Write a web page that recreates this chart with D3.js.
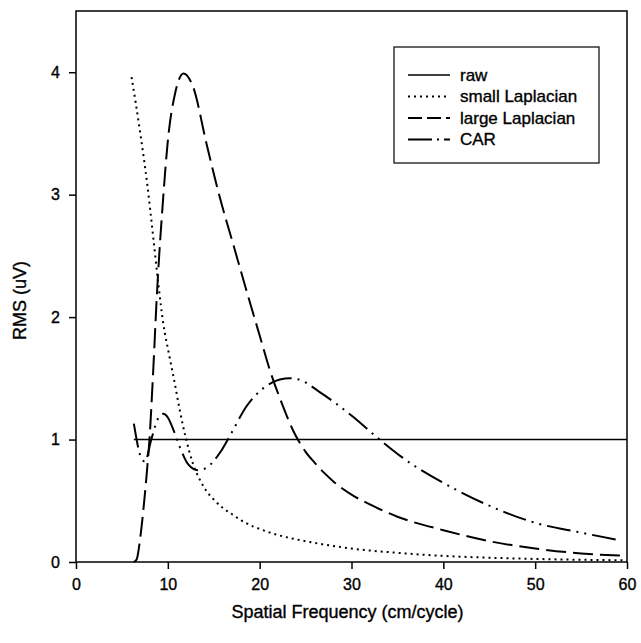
<!DOCTYPE html>
<html>
<head>
<meta charset="utf-8">
<script src="https://cdn.jsdelivr.net/npm/d3@7"></script>
<style>
  body { margin: 0; background: #fff; }
  svg { font-family: Arial, "Liberation Sans", sans-serif; }
  text { stroke: #000; stroke-width: 0.35px; }
</style>
</head>
<body>
<script>
// data: [spatial frequency, RMS]
const raw = [[6.3, 1], [60, 1]]

const smallLaplacian = [
  [6.05, 3.96], [6.5, 3.75], [7.0, 3.5], [7.75, 3.09], [8.4, 2.66], [8.95, 2.28],
  [9.5, 1.95], [10.2, 1.67], [10.8, 1.44], [11.3, 1.24], [12, 1.0], [12.75, 0.8],
  [13.5, 0.67], [14.2, 0.58], [15, 0.51], [16, 0.44], [17, 0.39], [18, 0.34],
  [19, 0.3], [20, 0.27], [22, 0.22], [25, 0.17], [30, 0.11], [35, 0.075],
  [40, 0.05], [45, 0.035], [50, 0.025], [55, 0.018], [60, 0.014]
]

const largeLaplacian = [
  [6.3, 0], [6.6, 0.02], [7.0, 0.2], [7.3, 0.4], [7.7, 0.72], [8.0, 1.0],
  [8.4, 1.55], [8.8, 2.17], [9.5, 2.98], [10, 3.44], [10.8, 3.83], [11.7, 3.99],
  [12.75, 3.88], [14.2, 3.42], [15.65, 2.98], [17.1, 2.6], [18.55, 2.22],
  [20, 1.85], [21.1, 1.57], [22.5, 1.28], [23.6, 1.08], [25, 0.9], [26, 0.81],
  [27, 0.73], [28, 0.66], [29, 0.6], [30, 0.55], [32, 0.47], [35, 0.37],
  [40, 0.26], [45, 0.17], [50, 0.11], [55, 0.07], [60, 0.05]
]

const car = [
  [6.3, 1.13], [7.1, 0.85], [7.5, 0.82], [8.2, 1.0], [8.8, 1.15], [9.5, 1.21],
  [10.0, 1.18], [10.5, 1.1], [11.3, 0.94], [12.2, 0.8], [13.3, 0.75], [14.2, 0.77],
  [15.65, 0.89], [16.9, 1.05], [18.55, 1.27], [20.4, 1.42], [22.2, 1.49],
  [23.3, 1.5], [24.3, 1.49], [26.5, 1.39], [30.1, 1.19], [32.9, 1.01],
  [35.6, 0.85], [41.4, 0.59], [45, 0.46], [50, 0.32], [55, 0.24], [59, 0.18]
]

const xTicks = [0, 10, 20, 30, 40, 50, 60]
const yTicks = [0, 1, 2, 3, 4]
const legendLabels = ["raw", "small Laplacian", "large Laplacian", "CAR"]

// Dimensions
const width = 641
const height = 643
const margin = { top: 11, right: 14, bottom: 81, left: 76 }
const plotWidth = width - margin.left - margin.right
const plotHeight = height - margin.top - margin.bottom

const svg = d3.select("body")
  .append("svg")
  .attr("width", width)
  .attr("height", height)

const x = d3.scaleLinear().domain([0, 60]).range([0, plotWidth])
const y = d3.scaleLinear().domain([0, 4.5]).range([plotHeight, 0])

const g = svg.append("g")
  .attr("transform", `translate(${margin.left}, ${margin.top})`)

// Axes
const axisX = g.append("g")
  .attr("transform", `translate(0, ${plotHeight})`)
  .call(d3.axisBottom(x).tickValues(xTicks).tickSize(7).tickPadding(10))

const axisY = g.append("g")
  .call(d3.axisLeft(y).tickValues(yTicks).tickFormat(d3.format("d")).tickSize(7).tickPadding(9))

;[axisX, axisY].forEach(a => {
  a.select(".domain").remove()
  a.selectAll("line").attr("stroke", "#000").attr("stroke-width", 1.5)
  a.selectAll("text")
    .style("font-size", "16px")
    .style("font-family", "Arial, 'Liberation Sans', sans-serif")
    .attr("fill", "#000")
})

// Frame
g.append("rect")
  .attr("width", plotWidth)
  .attr("height", plotHeight)
  .attr("fill", "none")
  .attr("stroke", "#000")
  .attr("stroke-width", 1.5)

// Lines
const line = d3.line()
  .x(d => x(d[0]))
  .y(d => y(d[1]))
  .curve(d3.curveMonotoneX)

const styles = [
  { data: raw, dash: null, w: 1.5 },
  { data: smallLaplacian, dash: "2,4", w: 2 },
  { data: largeLaplacian, dash: "20,7", w: 2 },
  { data: car, dash: "24,6,2,6,2,6", w: 2 }
]

g.selectAll("path.series")
  .data(styles)
  .join("path")
  .attr("class", "series")
  .attr("d", s => line(s.data))
  .attr("fill", "none")
  .attr("stroke", "#000")
  .attr("stroke-width", s => s.w)
  .attr("stroke-dasharray", s => s.dash)

// Legend
const legend = svg.append("g").attr("transform", "translate(394, 47)")

legend.append("rect")
  .attr("width", 205)
  .attr("height", 116)
  .attr("fill", "#fff")
  .attr("stroke", "#000")
  .attr("stroke-width", 1.2)

const legendDash = [null, "2,4", "14,5", "24,5,2,5"]

legendLabels.forEach((label, i) => {
  const ly = 28 + i * 21.5
  legend.append("line")
    .attr("x1", 14).attr("x2", 56)
    .attr("y1", ly).attr("y2", ly)
    .attr("stroke", "#000")
    .attr("stroke-width", i === 0 ? 1.5 : 2)
    .attr("stroke-dasharray", legendDash[i])
  legend.append("text")
    .attr("x", 66)
    .attr("y", ly)
    .attr("dy", "0.35em")
    .style("font-size", "17px")
    .text(label)
})

// Axis titles
svg.append("text")
  .attr("x", margin.left + plotWidth / 2 - 4)
  .attr("y", 612)
  .attr("dy", "0.35em")
  .attr("text-anchor", "middle")
  .style("font-size", "18px")
  .text("Spatial Frequency (cm/cycle)")

svg.append("text")
  .attr("transform", `translate(20, ${margin.top + plotHeight / 2 + 14}) rotate(-90)`)
  .attr("text-anchor", "middle")
  .attr("dy", "0.35em")
  .style("font-size", "18px")
  .text("RMS (uV)")
</script>
</body>
</html>
